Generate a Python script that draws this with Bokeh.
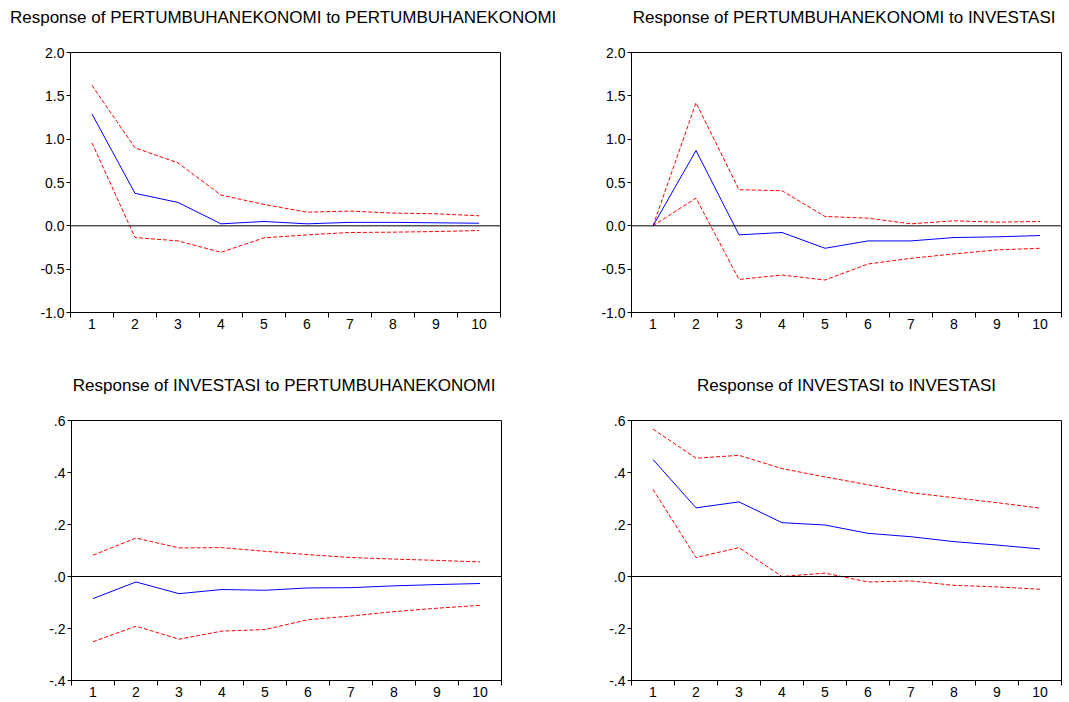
from bokeh.plotting import figure
from bokeh.models import Range1d, FixedTicker, Span, Title
from bokeh.layouts import column, row
from bokeh.embed import file_html
from bokeh.resources import INLINE

periods = [1, 2, 3, 4, 5, 6, 7, 8, 9, 10]

# Response of PERTUMBUHANEKONOMI to PERTUMBUHANEKONOMI
ek_ek = [1.29, 0.375, 0.27, 0.023, 0.05, 0.023, 0.04, 0.04, 0.035, 0.03]
ek_ek_up = [1.62, 0.90, 0.726, 0.355, 0.247, 0.158, 0.17, 0.147, 0.139, 0.116]
ek_ek_lo = [0.957, -0.135, -0.174, -0.305, -0.139, -0.104, -0.077, -0.073, -0.066, -0.054]

# Response of PERTUMBUHANEKONOMI to INVESTASI
ek_inv = [0.0, 0.869, -0.104, -0.077, -0.259, -0.174, -0.174, -0.135, -0.127, -0.112]
ek_inv_up = [0.0, 1.42, 0.417, 0.405, 0.108, 0.089, 0.023, 0.058, 0.042, 0.05]
ek_inv_lo = [0.0, 0.32, -0.618, -0.568, -0.625, -0.44, -0.375, -0.324, -0.278, -0.259]

# Response of INVESTASI to PERTUMBUHANEKONOMI
inv_ek = [-0.085, -0.021, -0.066, -0.050, -0.053, -0.044, -0.043, -0.036, -0.031, -0.027]
inv_ek_up = [0.082, 0.148, 0.110, 0.111, 0.097, 0.084, 0.073, 0.067, 0.062, 0.056]
inv_ek_lo = [-0.251, -0.191, -0.241, -0.210, -0.204, -0.166, -0.152, -0.135, -0.122, -0.111]

# Response of INVESTASI to INVESTASI
inv_inv = [0.450, 0.264, 0.287, 0.207, 0.198, 0.166, 0.153, 0.134, 0.121, 0.106]
inv_inv_up = [0.567, 0.455, 0.466, 0.415, 0.383, 0.353, 0.322, 0.303, 0.284, 0.263]
inv_inv_lo = [0.335, 0.073, 0.111, 0.0, 0.013, -0.021, -0.017, -0.034, -0.040, -0.049]

titles = [
    "Response of  PERTUMBUHANEKONOMI to PERTUMBUHANEKONOMI",
    "Response of  PERTUMBUHANEKONOMI to INVESTASI",
    "Response of  INVESTASI to PERTUMBUHANEKONOMI",
    "Response of INVESTASI to INVESTASI",
]

top_yticks = [-1.0, -0.5, 0.0, 0.5, 1.0, 1.5, 2.0]
top_ylabels = ["-1.0", "-0.5", "0.0", "0.5", "1.0", "1.5", "2.0"]
bot_yticks = [-0.4, -0.2, 0.0, 0.2, 0.4, 0.6]
bot_ylabels = ["-.4", "-.2", ".0", ".2", ".4", ".6"]

FONT = "Liberation Sans"


def panel(title, mid, up, lo, yr, yticks, ylabels, w, h, bl, br, bt, bb):
    p = figure(width=w, height=h, output_backend="svg", toolbar_location=None,
               title=None,
               x_range=Range1d(0.5, 10.5), y_range=Range1d(*yr),
               min_border_left=bl, min_border_right=br,
               min_border_top=bt, min_border_bottom=bb)
    # spacer panel between frame and the title, then the title itself
    p.add_layout(Title(text=" ", text_font_size="1px", standoff=23), "above")
    p.add_layout(Title(text=title, align="center", text_font=FONT,
                       text_font_size="17px", text_font_style="normal",
                       text_color="black", standoff=0), "above")
    p.xgrid.visible = False
    p.ygrid.visible = False
    p.outline_line_color = "black"
    p.outline_line_width = 1
    p.background_fill_color = "white"
    p.border_fill_color = "white"

    xa = p.xaxis[0]
    xa.ticker = FixedTicker(ticks=periods, minor_ticks=[i + 0.5 for i in range(0, 11)])
    xa.major_tick_out = 0
    xa.major_tick_in = 0
    xa.minor_tick_out = 5
    xa.minor_tick_in = 0
    xa.minor_tick_line_color = "black"
    xa.axis_line_color = "black"
    xa.major_label_standoff = 1
    xa.major_label_text_font = FONT
    xa.major_label_text_font_size = "14px"
    xa.major_label_text_color = "black"

    ya = p.yaxis[0]
    ya.ticker = FixedTicker(ticks=yticks, minor_ticks=[])
    ya.major_label_overrides = {t: l for t, l in zip(yticks, ylabels)}
    ya.major_tick_out = 4
    ya.major_tick_in = 0
    ya.minor_tick_out = 0
    ya.minor_tick_in = 0
    ya.major_tick_line_color = "black"
    ya.axis_line_color = "black"
    ya.major_label_standoff = 2
    ya.major_label_text_font = FONT
    ya.major_label_text_font_size = "14px"
    ya.major_label_text_color = "black"

    p.add_layout(Span(location=0, dimension="width", line_color="black", line_width=1))
    p.line(periods, up, line_color="#FF0000", line_width=1, line_dash="4 2")
    p.line(periods, lo, line_color="#FF0000", line_width=1, line_dash="4 2")
    p.line(periods, mid, line_color="#0000FF", line_width=1)
    return p


p1 = panel(titles[0], ek_ek, ek_ek_up, ek_ek_lo, (-1.0, 2.0), top_yticks, top_ylabels,
           580, 360, 70, 80, 52, 48)
p2 = panel(titles[1], ek_inv, ek_inv_up, ek_inv_lo, (-1.0, 2.0), top_yticks, top_ylabels,
           489, 360, 51, 8, 52, 48)
p3 = panel(titles[2], inv_ek, inv_ek_up, inv_ek_lo, (-0.4, 0.6), bot_yticks, bot_ylabels,
           580, 342, 71, 79, 60, 22)
p4 = panel(titles[3], inv_inv, inv_inv_up, inv_inv_lo, (-0.4, 0.6), bot_yticks, bot_ylabels,
           489, 342, 51, 8, 60, 22)

layout = column(row(p1, p2), row(p3, p4))
open("out.html", "w").write(file_html(layout, INLINE))
